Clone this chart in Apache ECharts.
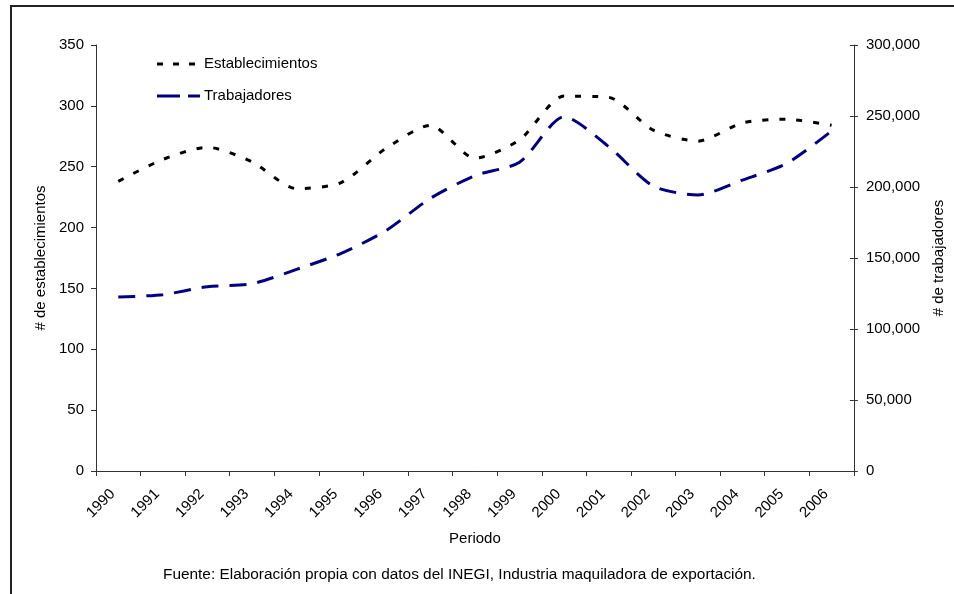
<!DOCTYPE html>
<html>
<head>
<meta charset="utf-8">
<script src="https://cdn.jsdelivr.net/npm/echarts@6/dist/echarts.min.js"></script>
<style>
  html, body { margin: 0; padding: 0; background: #fff; }
  #chart { width: 954px; height: 594px; }
</style>
</head>
<body>
<div id="chart"></div>
<script>
var years = ['1990', '1991', '1992', '1993', '1994', '1995', '1996', '1997', '1998',
  '1999', '2000', '2001', '2002', '2003', '2004', '2005', '2006'];
// establecimientos (left axis)
var establecimientos = [238, 256, 266, 254, 232, 237, 265, 284, 257, 272, 308, 307, 280, 271, 286, 289, 284];
// trabajadores (right axis)
var trabajadores = [122500, 124200, 129800, 131900, 142000, 153300, 169200, 192000, 208000,
  217400, 249500, 228400, 200700, 194400, 204900, 216700, 239400];

var FONT = 'Liberation Sans, Arial, sans-serif';
var BLACK_DASH = [6, 11];
var NAVY_DASH = [17, 11];
var dom = document.getElementById('chart');
var myChart = echarts.init(dom, null, { renderer: 'canvas' });

var axisLine = { show: true, lineStyle: { color: '#333', width: 1 } };

function legendEntry(y, color, dash, label) {
  return [{
    type: 'line',
    shape: { x1: 157, y1: y, x2: 200, y2: y },
    style: { stroke: color, lineWidth: 3, lineDash: dash },
    silent: true
  }, {
    type: 'text',
    x: 204,
    y: y,
    style: { text: label, font: '15px ' + FONT, fill: '#000', textVerticalAlign: 'middle' },
    silent: true
  }];
}

var option = {
  animation: false,
  textStyle: { fontFamily: FONT, color: '#000' },
  grid: { left: 96, right: 97, top: 45, bottom: 123 },
  graphic: [{
    type: 'rect',
    shape: { x: 11, y: 6, width: 1200, height: 1000 },
    style: { fill: 'none', stroke: '#222', lineWidth: 2 },
    silent: true
  }, {
    type: 'text',
    left: 163,
    top: 567,
    style: {
      text: 'Fuente: Elaboración propia con datos del INEGI, Industria maquiladora de exportación.',
      font: '15.4px ' + FONT,
      fill: '#000'
    }
  }].concat(legendEntry(64, '#000', [6, 10], 'Establecimientos'))
    .concat(legendEntry(96, '#000080', [23, 8], 'Trabajadores')),
  xAxis: {
    type: 'category',
    data: years,
    boundaryGap: true,
    name: 'Periodo',
    nameLocation: 'middle',
    nameGap: 60,
    nameTextStyle: { fontSize: 15, color: '#000', fontFamily: FONT },
    axisLine: axisLine,
    axisTick: { show: true, length: 5, lineStyle: { color: '#333' } },
    axisLabel: {
      rotate: 45, fontSize: 15, color: '#000', fontFamily: FONT,
      margin: 15, padding: [0, 8, 0, 0], interval: 0
    },
    splitLine: { show: false }
  },
  yAxis: [{
    type: 'value',
    min: 0,
    max: 350,
    interval: 50,
    name: '# de establecimientos',
    nameLocation: 'middle',
    nameGap: 46,
    nameRotate: 90,
    nameTextStyle: { fontSize: 15, color: '#000', fontFamily: FONT },
    axisLine: axisLine,
    axisTick: { show: true, length: 5, lineStyle: { color: '#333' } },
    axisLabel: { fontSize: 15, color: '#000', fontFamily: FONT, margin: 12 },
    splitLine: { show: false }
  }, {
    type: 'value',
    position: 'right',
    min: 0,
    max: 300000,
    interval: 50000,
    name: '# de trabajadores',
    nameLocation: 'middle',
    nameGap: 76,
    nameRotate: 90,
    nameTextStyle: { fontSize: 15, color: '#000', fontFamily: FONT },
    axisLine: axisLine,
    axisTick: { show: true, length: 4, lineStyle: { color: '#333' } },
    axisLabel: {
      fontSize: 15, color: '#000', fontFamily: FONT, margin: 12,
      formatter: function (v) { return v.toLocaleString('en-US'); }
    },
    splitLine: { show: false }
  }, {
    // inner half of the crossing ticks on the right axis
    type: 'value',
    position: 'right',
    min: 0,
    max: 300000,
    interval: 50000,
    axisLine: { show: false },
    axisTick: { show: true, inside: true, length: 4, lineStyle: { color: '#333' } },
    axisLabel: { show: false },
    splitLine: { show: false }
  }],
  series: [{
    name: 'Establecimientos',
    type: 'line',
    yAxisIndex: 0,
    data: establecimientos,
    smooth: 0.25,
    symbol: 'none',
    itemStyle: { color: '#000' },
    lineStyle: { color: '#000', width: 3, type: BLACK_DASH }
  }, {
    name: 'Trabajadores',
    type: 'line',
    yAxisIndex: 1,
    data: trabajadores,
    smooth: 0.25,
    symbol: 'none',
    itemStyle: { color: '#000080' },
    lineStyle: { color: '#000080', width: 3, type: NAVY_DASH }
  }]
};

myChart.setOption(option);
window.addEventListener('resize', myChart.resize);
</script>
</body>
</html>
